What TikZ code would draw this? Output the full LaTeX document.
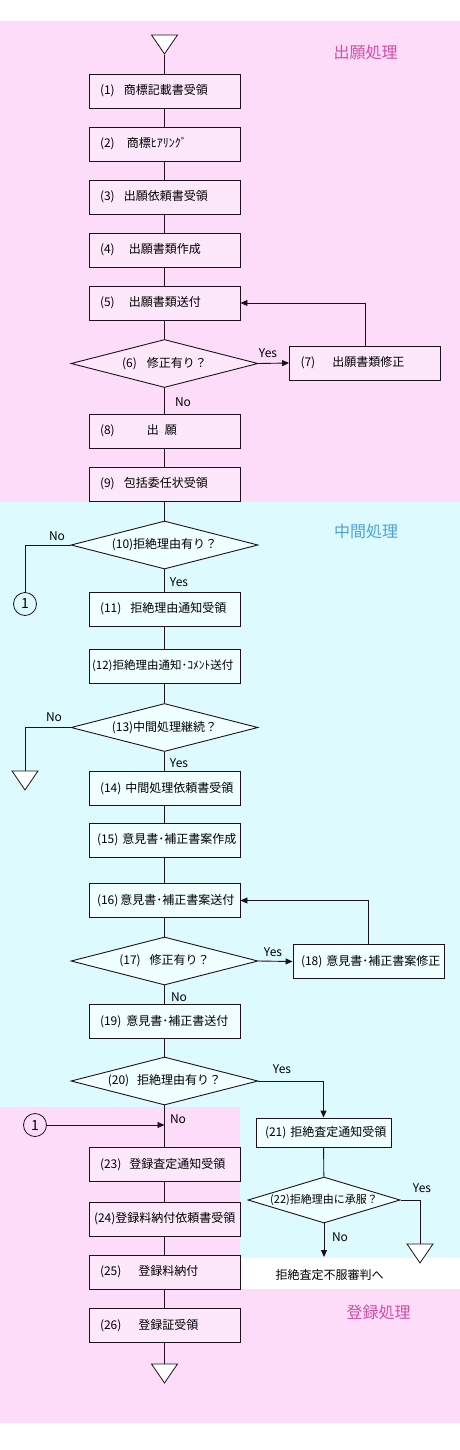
\documentclass[tikz,border=0pt]{standalone}
\usepackage{fontspec}
\setmainfont{Noto Sans CJK JP}
\usetikzlibrary{shapes.geometric,arrows.meta}
\definecolor{pinkbg}{HTML}{FCDCF8}
\definecolor{pinkbox}{HTML}{FDE8FB}
\definecolor{cyanbg}{HTML}{DDFBFF}
\definecolor{cyanbox}{HTML}{F0FFFF}
\definecolor{ink}{HTML}{1E101C}
\definecolor{magtitle}{HTML}{D04FA8}
\definecolor{bluetitle}{HTML}{4FA3D3}
\newcommand{\boxtext}[1]{\makebox[129pt][l]{#1}}

\begin{document}
\begin{tikzpicture}[x=1pt,y=-1pt,
        box/.style={
            draw=ink,
            line width=0.9pt,
            minimum width=151pt,
            minimum height=34pt,
            inner sep=0pt,
            font=\fontsize{12}{14}\selectfont
        },
        pbox/.style={box, fill=pinkbox},
        cbox/.style={box, fill=cyanbox},
        query/.style={
            diamond,
            aspect=3.9,
            draw=ink,
            line width=0.9pt,
            minimum width=187pt,
            minimum height=48pt,
            inner sep=0pt,
            font=\fontsize{12}{14}\selectfont
        },
        term/.style={
            isosceles triangle,
            isosceles triangle stretches,
            shape border rotate=-90,
            draw=ink,
            fill=white,
            line width=0.8pt,
            minimum width=26pt,
            minimum height=19pt,
            inner sep=0pt
        },
        jump/.style={circle, draw=ink, line width=0.8pt, minimum size=23pt,
            inner sep=0pt, font=\fontsize{14}{16}\selectfont},
        link/.style={draw=ink, line width=0.9pt},
        flow/.style={link, -{Triangle[length=7pt,width=6pt]}},
        answer/.style={inner sep=0pt, font=\fontsize{12}{14}\selectfont},
        phase/.style={inner sep=0pt, font=\fontsize{16}{18}\selectfont}
    ]
        \useasboundingbox (0,0) rectangle (460,1450);

        % Phase backgrounds
        \fill[white] (0,0) rectangle (460,1450);
        \fill[pinkbg] (0,21) rectangle (460,502);
        \fill[cyanbg] (0,502) rectangle (460,1107);
        \fill[cyanbg] (240,1107) rectangle (460,1258);
        \fill[pinkbg] (0,1107) rectangle (240,1289);
        \fill[pinkbg] (0,1289) rectangle (460,1423);

        \node[phase, text=magtitle] (ph1) at (365.5,52) {出願処理};
        \node[phase, text=bluetitle] (ph2) at (366,531) {中間処理};
        \node[phase, text=magtitle] (ph3) at (378.5,1312) {登録処理};

        % Filing
        \node[term, anchor=apex] (t0) at (164.5,55) {};
        \node[pbox] (b1) at (164.5,91) {\boxtext{(1)\hspace{9pt}商標記載書受領}};
        \node[pbox] (b2) at (164.5,144) {\boxtext{(2)\hspace{12pt}商標ﾋｱﾘﾝｸﾞ}};
        \node[pbox] (b3) at (164.5,197) {\boxtext{(3)\hspace{9pt}出願依頼書受領}};
        \node[pbox] (b4) at (164.5,250) {\boxtext{(4)\hspace{14pt}出願書類作成}};
        \node[pbox] (b5) at (164.5,303) {\boxtext{(5)\hspace{14pt}出願書類送付}};
        \node[query, fill=pinkbox] (d6) at (164.5,363.5) {(6)\hspace{10pt}修正有り？};
        \node[pbox] (b7) at (365,363) {\boxtext{(7)\hspace{17pt}出願書類修正}};
        \node[pbox] (b8) at (164.5,431) {\boxtext{(8)\hspace{32pt}出\hspace{6pt}願}};
        \node[pbox] (b9) at (164.5,484) {\boxtext{(9)\hspace{9pt}包括委任状受領}};

        % Office actions
        \node[query, fill=cyanbox] (d10) at (164.5,545) {(10)拒絶理由有り？};
        \node[jump] (c1a) at (25,604) {1};
        \node[cbox] (b11) at (164.5,609) {\boxtext{(11)\hspace{9pt}拒絶理由通知受領}};
        \node[cbox, font=\fontsize{11.5}{14}\selectfont] (b12) at (164.5,666)
            {\boxtext{\hspace*{-8pt}(12)拒絶理由通知･ｺﾒﾝﾄ送付}};
        \node[query, fill=cyanbox] (d13) at (164.5,727.5) {(13)中間処理継続？};
        \node[term, anchor=apex] (t1) at (25,791) {};
        \node[cbox] (b14) at (164.5,788.5) {\boxtext{(14)\hspace{4pt}中間処理依頼書受領}};
        \node[cbox] (b15) at (164.5,840) {\boxtext{\hspace*{-3pt}(15)\hspace{4pt}意見書･補正書案作成}};
        \node[cbox] (b16) at (164.5,900.5) {\boxtext{\hspace*{-3pt}(16)\hspace{2pt}意見書･補正書案送付}};
        \node[query, fill=cyanbox] (d17) at (164.5,961) {(17)\hspace{9pt}修正有り？};
        \node[cbox] (b18) at (368.5,961.5) {\boxtext{\hspace*{-3pt}(18)\hspace{4pt}意見書･補正書案修正}};
        \node[cbox] (b19) at (164.5,1021.5) {\boxtext{(19)\hspace{5pt}意見書･補正書送付}};
        \node[query, fill=cyanbox] (d20) at (164.5,1081) {(20)\hspace{8pt}拒絶理由有り？};

        % Final rejection
        \node[cbox, minimum width=135pt, minimum height=29pt] (b21) at (323.5,1132.5)
            {\boxtext{\hspace*{6pt}(21)\hspace{4pt}拒絶査定通知受領}};
        \node[query, fill=cyanbox, minimum width=146pt, minimum height=46pt,
            font=\fontsize{11}{13}\selectfont] (d22) at (324,1200) {(22)拒絶理由に承服？};
        \node[term, anchor=apex] (t2) at (420,1264) {};
        \coordinate (out) at (324,1257);
        \node[inner sep=0pt, font=\fontsize{12}{14}\selectfont] (appeal) at (329.5,1275) {拒絶査定不服審判へ};

        % Registration
        \node[jump] (c1b) at (35,1125) {1};
        \coordinate (j1) at (164.5,1125);
        \node[pbox] (b23) at (164.5,1164.5) {\boxtext{(23)\hspace{8pt}登録査定通知受領}};
        \node[pbox] (b24) at (164.5,1219) {\boxtext{\hspace*{-6pt}(24)登録料納付依頼書受領}};
        \node[pbox] (b25) at (164.5,1272) {\boxtext{(25)\hspace{17pt}登録料納付}};
        \node[pbox] (b26) at (164.5,1325.5) {\boxtext{(26)\hspace{17pt}登録証受領}};
        \node[term, anchor=apex] (t3) at (164.5,1384) {};

        % Connectors
        \draw[link] (t0.apex) -- (b1);
        \foreach \a/\b in {b1/b2, b2/b3, b3/b4, b4/b5, b5/d6, b8/b9, b9/d10,
            b11/b12, b12/d13, b14/b15, b15/b16, b16/d17, b19/d20, b21/d22,
            b23/b24, b24/b25, b25/b26}
            \draw[link] (\a) -- (\b);
        \draw[link] (d6) -- (b8);
        \draw[flow] (d6.east) -- (b7.west);
        \draw[flow] (b7.north) |- (b5.east);
        \draw[link] (d10.west) -| (c1a.north);
        \draw[link] (d10) -- (b11);
        \draw[link] (d13.west) -| (t1.north);
        \draw[link] (d13) -- (b14);
        \draw[flow] (d17.east) -- (b18.west);
        \draw[flow] (b18.north) |- (b16.east);
        \draw[link] (d17) -- (b19);
        \draw[flow] (d20.east) -| (b21.north);
        \draw[link] (d20.south) -- (b23.north);
        \draw[flow] (c1b.east) -- (j1);
        \draw[link] (d22.east) -| (t2.north);
        \draw[flow] (d22.south) -- (out);
        \draw[link] (b26.south) -- (t3.north);

        % Answers
        \node[answer] (y6) at (268,353) {Yes};
        \node[answer] (n6) at (183,402) {No};
        \node[answer] (n10) at (57,536) {No};
        \node[answer] (y10) at (179,582) {Yes};
        \node[answer] (n13) at (54,717) {No};
        \node[answer] (y13) at (179,763) {Yes};
        \node[answer] (y17) at (273,952) {Yes};
        \node[answer] (n17) at (179,997) {No};
        \node[answer] (y20) at (282,1069) {Yes};
        \node[answer] (n20) at (178,1119) {No};
        \node[answer] (y22) at (422,1188) {Yes};
        \node[answer] (n22) at (340,1237) {No};
    \end{tikzpicture}
\end{document}
